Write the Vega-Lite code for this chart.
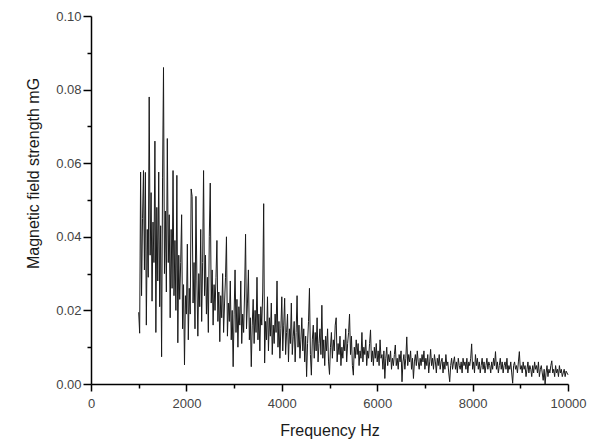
{
  "$schema": "https://vega.github.io/schema/vega-lite/v6.json",
  "autosize": {"type": "none"},
  "padding": {"left": 91, "top": 16, "right": 27, "bottom": 64},
  "width": 477,
  "height": 368,
  "background": "white",
  "config": {"view": {"stroke": null}},
  "data": {"values": [
{"hz":1000,"mg":0.0195},{"hz":1020,"mg":0.0138},{"hz":1040,"mg":0.0576},{"hz":1060,"mg":0.0240},{"hz":1080,"mg":0.0450},{"hz":1100,"mg":0.0580},{"hz":1120,"mg":0.0310},{"hz":1140,"mg":0.0575},{"hz":1160,"mg":0.0160},{"hz":1180,"mg":0.0420},
{"hz":1200,"mg":0.0290},{"hz":1220,"mg":0.0780},{"hz":1240,"mg":0.0350},{"hz":1260,"mg":0.0520},{"hz":1280,"mg":0.0225},{"hz":1300,"mg":0.0440},{"hz":1320,"mg":0.0330},{"hz":1340,"mg":0.0660},{"hz":1360,"mg":0.0140},{"hz":1380,"mg":0.0480},
{"hz":1400,"mg":0.0280},{"hz":1420,"mg":0.0576},{"hz":1440,"mg":0.0210},{"hz":1460,"mg":0.0430},{"hz":1480,"mg":0.0074},{"hz":1500,"mg":0.0560},{"hz":1520,"mg":0.0860},{"hz":1540,"mg":0.0300},{"hz":1560,"mg":0.0470},{"hz":1580,"mg":0.0250},
{"hz":1600,"mg":0.0667},{"hz":1620,"mg":0.0330},{"hz":1640,"mg":0.0460},{"hz":1660,"mg":0.0180},{"hz":1680,"mg":0.0420},{"hz":1700,"mg":0.0260},{"hz":1720,"mg":0.0580},{"hz":1740,"mg":0.0240},{"hz":1760,"mg":0.0390},{"hz":1780,"mg":0.0200},
{"hz":1800,"mg":0.0567},{"hz":1820,"mg":0.0112},{"hz":1840,"mg":0.0350},{"hz":1860,"mg":0.0230},{"hz":1880,"mg":0.0330},{"hz":1900,"mg":0.0460},{"hz":1920,"mg":0.0150},{"hz":1940,"mg":0.0270},{"hz":1960,"mg":0.0052},{"hz":1980,"mg":0.0240},
{"hz":2000,"mg":0.0190},{"hz":2020,"mg":0.0380},{"hz":2040,"mg":0.0120},{"hz":2060,"mg":0.0260},{"hz":2080,"mg":0.0190},{"hz":2100,"mg":0.0530},{"hz":2120,"mg":0.0510},{"hz":2140,"mg":0.0220},{"hz":2160,"mg":0.0330},{"hz":2180,"mg":0.0150},
{"hz":2200,"mg":0.0510},{"hz":2220,"mg":0.0280},{"hz":2240,"mg":0.0130},{"hz":2260,"mg":0.0300},{"hz":2280,"mg":0.0210},{"hz":2300,"mg":0.0420},{"hz":2320,"mg":0.0170},{"hz":2340,"mg":0.0330},{"hz":2360,"mg":0.0580},{"hz":2380,"mg":0.0240},
{"hz":2400,"mg":0.0350},{"hz":2420,"mg":0.0190},{"hz":2440,"mg":0.0290},{"hz":2460,"mg":0.0140},{"hz":2480,"mg":0.0400},{"hz":2500,"mg":0.0546},{"hz":2520,"mg":0.0220},{"hz":2540,"mg":0.0310},{"hz":2560,"mg":0.0160},{"hz":2580,"mg":0.0270},
{"hz":2600,"mg":0.0200},{"hz":2620,"mg":0.0290},{"hz":2640,"mg":0.0390},{"hz":2660,"mg":0.0170},{"hz":2680,"mg":0.0250},{"hz":2700,"mg":0.0115},{"hz":2720,"mg":0.0240},{"hz":2740,"mg":0.0180},{"hz":2760,"mg":0.0300},{"hz":2780,"mg":0.0140},
{"hz":2800,"mg":0.0220},{"hz":2820,"mg":0.0290},{"hz":2840,"mg":0.0400},{"hz":2860,"mg":0.0130},{"hz":2880,"mg":0.0220},{"hz":2900,"mg":0.0170},{"hz":2920,"mg":0.0280},{"hz":2940,"mg":0.0120},{"hz":2960,"mg":0.0200},{"hz":2980,"mg":0.0047},
{"hz":3000,"mg":0.0190},{"hz":3020,"mg":0.0310},{"hz":3040,"mg":0.0140},{"hz":3060,"mg":0.0230},{"hz":3080,"mg":0.0100},{"hz":3100,"mg":0.0210},{"hz":3120,"mg":0.0160},{"hz":3140,"mg":0.0280},{"hz":3160,"mg":0.0110},{"hz":3180,"mg":0.0190},
{"hz":3200,"mg":0.0140},{"hz":3220,"mg":0.0250},{"hz":3240,"mg":0.0407},{"hz":3260,"mg":0.0150},{"hz":3280,"mg":0.0220},{"hz":3300,"mg":0.0310},{"hz":3320,"mg":0.0120},{"hz":3340,"mg":0.0180},{"hz":3360,"mg":0.0047},{"hz":3380,"mg":0.0160},
{"hz":3400,"mg":0.0230},{"hz":3420,"mg":0.0110},{"hz":3440,"mg":0.0200},{"hz":3460,"mg":0.0140},{"hz":3480,"mg":0.0290},{"hz":3500,"mg":0.0120},{"hz":3520,"mg":0.0190},{"hz":3540,"mg":0.0090},{"hz":3560,"mg":0.0210},{"hz":3580,"mg":0.0160},
{"hz":3600,"mg":0.0250},{"hz":3620,"mg":0.0490},{"hz":3640,"mg":0.0057},{"hz":3660,"mg":0.0170},{"hz":3680,"mg":0.0120},{"hz":3700,"mg":0.0237},{"hz":3720,"mg":0.0090},{"hz":3740,"mg":0.0180},{"hz":3760,"mg":0.0130},{"hz":3780,"mg":0.0220},
{"hz":3800,"mg":0.0080},{"hz":3820,"mg":0.0160},{"hz":3840,"mg":0.0110},{"hz":3860,"mg":0.0190},{"hz":3880,"mg":0.0140},{"hz":3900,"mg":0.0280},{"hz":3920,"mg":0.0100},{"hz":3940,"mg":0.0170},{"hz":3960,"mg":0.0070},{"hz":3980,"mg":0.0150},
{"hz":4000,"mg":0.0237},{"hz":4020,"mg":0.0090},{"hz":4040,"mg":0.0160},{"hz":4060,"mg":0.0233},{"hz":4080,"mg":0.0080},{"hz":4100,"mg":0.0140},{"hz":4120,"mg":0.0190},{"hz":4140,"mg":0.0060},{"hz":4160,"mg":0.0150},{"hz":4180,"mg":0.0110},
{"hz":4200,"mg":0.0220},{"hz":4220,"mg":0.0080},{"hz":4240,"mg":0.0130},{"hz":4260,"mg":0.0170},{"hz":4280,"mg":0.0060},{"hz":4300,"mg":0.0140},{"hz":4320,"mg":0.0240},{"hz":4340,"mg":0.0100},{"hz":4360,"mg":0.0160},{"hz":4380,"mg":0.0070},
{"hz":4400,"mg":0.0120},{"hz":4420,"mg":0.0180},{"hz":4440,"mg":0.0090},{"hz":4460,"mg":0.0150},{"hz":4480,"mg":0.0060},{"hz":4500,"mg":0.0130},{"hz":4520,"mg":0.0020},{"hz":4540,"mg":0.0110},{"hz":4560,"mg":0.0170},{"hz":4580,"mg":0.0260},
{"hz":4600,"mg":0.0080},{"hz":4620,"mg":0.0024},{"hz":4640,"mg":0.0120},{"hz":4660,"mg":0.0160},{"hz":4680,"mg":0.0070},{"hz":4700,"mg":0.0140},{"hz":4720,"mg":0.0090},{"hz":4740,"mg":0.0180},{"hz":4760,"mg":0.0060},{"hz":4780,"mg":0.0110},
{"hz":4800,"mg":0.0150},{"hz":4820,"mg":0.0080},{"hz":4840,"mg":0.0214},{"hz":4860,"mg":0.0070},{"hz":4880,"mg":0.0120},{"hz":4900,"mg":0.0050},{"hz":4920,"mg":0.0130},{"hz":4940,"mg":0.0090},{"hz":4960,"mg":0.0150},{"hz":4980,"mg":0.0060},
{"hz":5000,"mg":0.0026},{"hz":5020,"mg":0.0100},{"hz":5040,"mg":0.0140},{"hz":5060,"mg":0.0070},{"hz":5080,"mg":0.0120},{"hz":5100,"mg":0.0090},{"hz":5120,"mg":0.0160},{"hz":5140,"mg":0.0180},{"hz":5160,"mg":0.0060},{"hz":5180,"mg":0.0110},
{"hz":5200,"mg":0.0080},{"hz":5220,"mg":0.0130},{"hz":5240,"mg":0.0050},{"hz":5260,"mg":0.0100},{"hz":5280,"mg":0.0070},{"hz":5300,"mg":0.0120},{"hz":5320,"mg":0.0090},{"hz":5340,"mg":0.0150},{"hz":5360,"mg":0.0060},{"hz":5380,"mg":0.0110},
{"hz":5400,"mg":0.0140},{"hz":5420,"mg":0.0190},{"hz":5440,"mg":0.0080},{"hz":5460,"mg":0.0130},{"hz":5480,"mg":0.0050},{"hz":5500,"mg":0.0024},{"hz":5520,"mg":0.0100},{"hz":5540,"mg":0.0070},{"hz":5560,"mg":0.0120},{"hz":5580,"mg":0.0080},
{"hz":5600,"mg":0.0110},{"hz":5620,"mg":0.0050},{"hz":5640,"mg":0.0090},{"hz":5660,"mg":0.0070},{"hz":5680,"mg":0.0140},{"hz":5700,"mg":0.0060},{"hz":5720,"mg":0.0100},{"hz":5740,"mg":0.0080},{"hz":5760,"mg":0.0120},{"hz":5780,"mg":0.0050},
{"hz":5800,"mg":0.0090},{"hz":5820,"mg":0.0070},{"hz":5840,"mg":0.0110},{"hz":5860,"mg":0.0147},{"hz":5880,"mg":0.0060},{"hz":5900,"mg":0.0090},{"hz":5920,"mg":0.0050},{"hz":5940,"mg":0.0100},{"hz":5960,"mg":0.0070},{"hz":5980,"mg":0.0110},
{"hz":6000,"mg":0.0060},{"hz":6020,"mg":0.0090},{"hz":6040,"mg":0.0050},{"hz":6060,"mg":0.0120},{"hz":6080,"mg":0.0070},{"hz":6100,"mg":0.0080},{"hz":6120,"mg":0.0040},{"hz":6140,"mg":0.0090},{"hz":6160,"mg":0.0015},{"hz":6180,"mg":0.0070},
{"hz":6200,"mg":0.0100},{"hz":6220,"mg":0.0050},{"hz":6240,"mg":0.0080},{"hz":6260,"mg":0.0060},{"hz":6280,"mg":0.0090},{"hz":6300,"mg":0.0040},{"hz":6320,"mg":0.0070},{"hz":6340,"mg":0.0050},{"hz":6360,"mg":0.0080},{"hz":6380,"mg":0.0106},
{"hz":6400,"mg":0.0050},{"hz":6420,"mg":0.0070},{"hz":6440,"mg":0.0040},{"hz":6460,"mg":0.0080},{"hz":6480,"mg":0.0060},{"hz":6500,"mg":0.0090},{"hz":6520,"mg":0.0006},{"hz":6540,"mg":0.0060},{"hz":6560,"mg":0.0080},{"hz":6580,"mg":0.0040},
{"hz":6600,"mg":0.0070},{"hz":6620,"mg":0.0128},{"hz":6640,"mg":0.0050},{"hz":6660,"mg":0.0080},{"hz":6680,"mg":0.0060},{"hz":6700,"mg":0.0090},{"hz":6720,"mg":0.0040},{"hz":6740,"mg":0.0070},{"hz":6760,"mg":0.0015},{"hz":6780,"mg":0.0060},
{"hz":6800,"mg":0.0080},{"hz":6820,"mg":0.0050},{"hz":6840,"mg":0.0090},{"hz":6860,"mg":0.0060},{"hz":6880,"mg":0.0040},{"hz":6900,"mg":0.0070},{"hz":6920,"mg":0.0050},{"hz":6940,"mg":0.0080},{"hz":6960,"mg":0.0060},{"hz":6980,"mg":0.0090},
{"hz":7000,"mg":0.0040},{"hz":7020,"mg":0.0070},{"hz":7040,"mg":0.0050},{"hz":7060,"mg":0.0080},{"hz":7080,"mg":0.0030},{"hz":7100,"mg":0.0060},{"hz":7120,"mg":0.0094},{"hz":7140,"mg":0.0050},{"hz":7160,"mg":0.0070},{"hz":7180,"mg":0.0040},
{"hz":7200,"mg":0.0080},{"hz":7220,"mg":0.0060},{"hz":7240,"mg":0.0030},{"hz":7260,"mg":0.0070},{"hz":7280,"mg":0.0050},{"hz":7300,"mg":0.0080},{"hz":7320,"mg":0.0040},{"hz":7340,"mg":0.0060},{"hz":7360,"mg":0.0070},{"hz":7380,"mg":0.0030},
{"hz":7400,"mg":0.0060},{"hz":7420,"mg":0.0040},{"hz":7440,"mg":0.0080},{"hz":7460,"mg":0.0050},{"hz":7480,"mg":0.0060},{"hz":7500,"mg":0.0030},{"hz":7520,"mg":0.0006},{"hz":7540,"mg":0.0050},{"hz":7560,"mg":0.0070},{"hz":7580,"mg":0.0040},
{"hz":7600,"mg":0.0060},{"hz":7620,"mg":0.0074},{"hz":7640,"mg":0.0040},{"hz":7660,"mg":0.0060},{"hz":7680,"mg":0.0030},{"hz":7700,"mg":0.0070},{"hz":7720,"mg":0.0050},{"hz":7740,"mg":0.0040},{"hz":7760,"mg":0.0060},{"hz":7780,"mg":0.0030},
{"hz":7800,"mg":0.0070},{"hz":7820,"mg":0.0050},{"hz":7840,"mg":0.0060},{"hz":7860,"mg":0.0040},{"hz":7880,"mg":0.0070},{"hz":7900,"mg":0.0030},{"hz":7920,"mg":0.0060},{"hz":7940,"mg":0.0050},{"hz":7960,"mg":0.0070},{"hz":7980,"mg":0.0109},
{"hz":8000,"mg":0.0040},{"hz":8020,"mg":0.0060},{"hz":8040,"mg":0.0030},{"hz":8060,"mg":0.0080},{"hz":8080,"mg":0.0050},{"hz":8100,"mg":0.0070},{"hz":8120,"mg":0.0040},{"hz":8140,"mg":0.0060},{"hz":8160,"mg":0.0030},{"hz":8180,"mg":0.0050},
{"hz":8200,"mg":0.0070},{"hz":8220,"mg":0.0040},{"hz":8240,"mg":0.0060},{"hz":8260,"mg":0.0030},{"hz":8280,"mg":0.0050},{"hz":8300,"mg":0.0070},{"hz":8320,"mg":0.0040},{"hz":8340,"mg":0.0060},{"hz":8360,"mg":0.0050},{"hz":8380,"mg":0.0030},
{"hz":8400,"mg":0.0060},{"hz":8420,"mg":0.0040},{"hz":8440,"mg":0.0070},{"hz":8460,"mg":0.0050},{"hz":8480,"mg":0.0088},{"hz":8500,"mg":0.0040},{"hz":8520,"mg":0.0060},{"hz":8540,"mg":0.0030},{"hz":8560,"mg":0.0050},{"hz":8580,"mg":0.0070},
{"hz":8600,"mg":0.0040},{"hz":8620,"mg":0.0060},{"hz":8640,"mg":0.0030},{"hz":8660,"mg":0.0050},{"hz":8680,"mg":0.0060},{"hz":8700,"mg":0.0040},{"hz":8720,"mg":0.0070},{"hz":8740,"mg":0.0030},{"hz":8760,"mg":0.0050},{"hz":8780,"mg":0.0040},
{"hz":8800,"mg":0.0060},{"hz":8820,"mg":0.0030},{"hz":8840,"mg":0.0002},{"hz":8860,"mg":0.0050},{"hz":8880,"mg":0.0060},{"hz":8900,"mg":0.0040},{"hz":8920,"mg":0.0050},{"hz":8940,"mg":0.0030},{"hz":8960,"mg":0.0060},{"hz":8980,"mg":0.0088},
{"hz":9000,"mg":0.0040},{"hz":9020,"mg":0.0050},{"hz":9040,"mg":0.0030},{"hz":9060,"mg":0.0060},{"hz":9080,"mg":0.0040},{"hz":9100,"mg":0.0050},{"hz":9120,"mg":0.0020},{"hz":9140,"mg":0.0040},{"hz":9160,"mg":0.0060},{"hz":9180,"mg":0.0030},
{"hz":9200,"mg":0.0050},{"hz":9220,"mg":0.0040},{"hz":9240,"mg":0.0020},{"hz":9260,"mg":0.0050},{"hz":9280,"mg":0.0030},{"hz":9300,"mg":0.0060},{"hz":9320,"mg":0.0040},{"hz":9340,"mg":0.0050},{"hz":9360,"mg":0.0030},{"hz":9380,"mg":0.0060},
{"hz":9400,"mg":0.0020},{"hz":9420,"mg":0.0040},{"hz":9440,"mg":0.0050},{"hz":9460,"mg":0.0030},{"hz":9480,"mg":0.0010},{"hz":9500,"mg":0.0040},{"hz":9520,"mg":0.0000},{"hz":9540,"mg":0.0030},{"hz":9560,"mg":0.0050},{"hz":9580,"mg":0.0020},
{"hz":9600,"mg":0.0040},{"hz":9620,"mg":0.0030},{"hz":9640,"mg":0.0050},{"hz":9660,"mg":0.0063},{"hz":9680,"mg":0.0030},{"hz":9700,"mg":0.0040},{"hz":9720,"mg":0.0020},{"hz":9740,"mg":0.0050},{"hz":9760,"mg":0.0030},{"hz":9780,"mg":0.0040},
{"hz":9800,"mg":0.0020},{"hz":9820,"mg":0.0050},{"hz":9840,"mg":0.0030},{"hz":9860,"mg":0.0040},{"hz":9880,"mg":0.0020},{"hz":9900,"mg":0.0030},{"hz":9920,"mg":0.0040},{"hz":9940,"mg":0.0020},{"hz":9960,"mg":0.0035},{"hz":9980,"mg":0.0030},
{"hz":10000,"mg":0.0025}
  ]},
  "mark": {"type": "line", "stroke": "#1a1a1a", "strokeWidth": 1, "interpolate": "linear"},
  "encoding": {
    "x": {
      "field": "hz", "type": "quantitative",
      "scale": {"domain": [0, 10000], "nice": false, "zero": false},
      "axis": {
        "title": "Frequency Hz",
        "values": [0,1000,2000,3000,4000,5000,6000,7000,8000,9000,10000],
        "labelExpr": "round(datum.value/1000) % 2 === 0 ? format(datum.value, 'd') : ''",
        "grid": false,
        "domainColor": "#000000", "domainWidth": 1.5,
        "tickColor": "#000000", "tickWidth": 1.5,
        "tickSize": {"condition": {"test": "round(datum.value/1000) % 2 === 1", "value": 4}, "value": 7},
        "labelFont": "Liberation Sans", "labelFontSize": 13, "labelColor": "#444444", "labelPadding": 6,
        "labelOverlap": false, "labelFlush": false,
        "titleFont": "Liberation Sans", "titleFontSize": 16, "titleFontWeight": "normal", "titleColor": "#1a1a1a", "titlePadding": 12
      }
    },
    "y": {
      "field": "mg", "type": "quantitative",
      "scale": {"domain": [0, 0.1], "nice": false},
      "axis": {
        "title": "Magnetic field strength mG",
        "values": [0,0.01,0.02,0.03,0.04,0.05,0.06,0.07,0.08,0.09,0.1],
        "labelExpr": "round(datum.value*100) % 2 === 0 ? format(datum.value, '.2f') : ''",
        "grid": false,
        "domainColor": "#000000", "domainWidth": 1.5,
        "tickColor": "#000000", "tickWidth": 1.5,
        "tickSize": {"condition": {"test": "round(datum.value*100) % 2 === 1", "value": 4}, "value": 8},
        "labelFont": "Liberation Sans", "labelFontSize": 13, "labelColor": "#444444", "labelPadding": 2,
        "labelOverlap": false, "labelFlush": false,
        "titleFont": "Liberation Sans", "titleFontSize": 16, "titleFontWeight": "normal", "titleColor": "#1a1a1a", "titlePadding": 14,
        "titleY": 157
      }
    }
  }
}
